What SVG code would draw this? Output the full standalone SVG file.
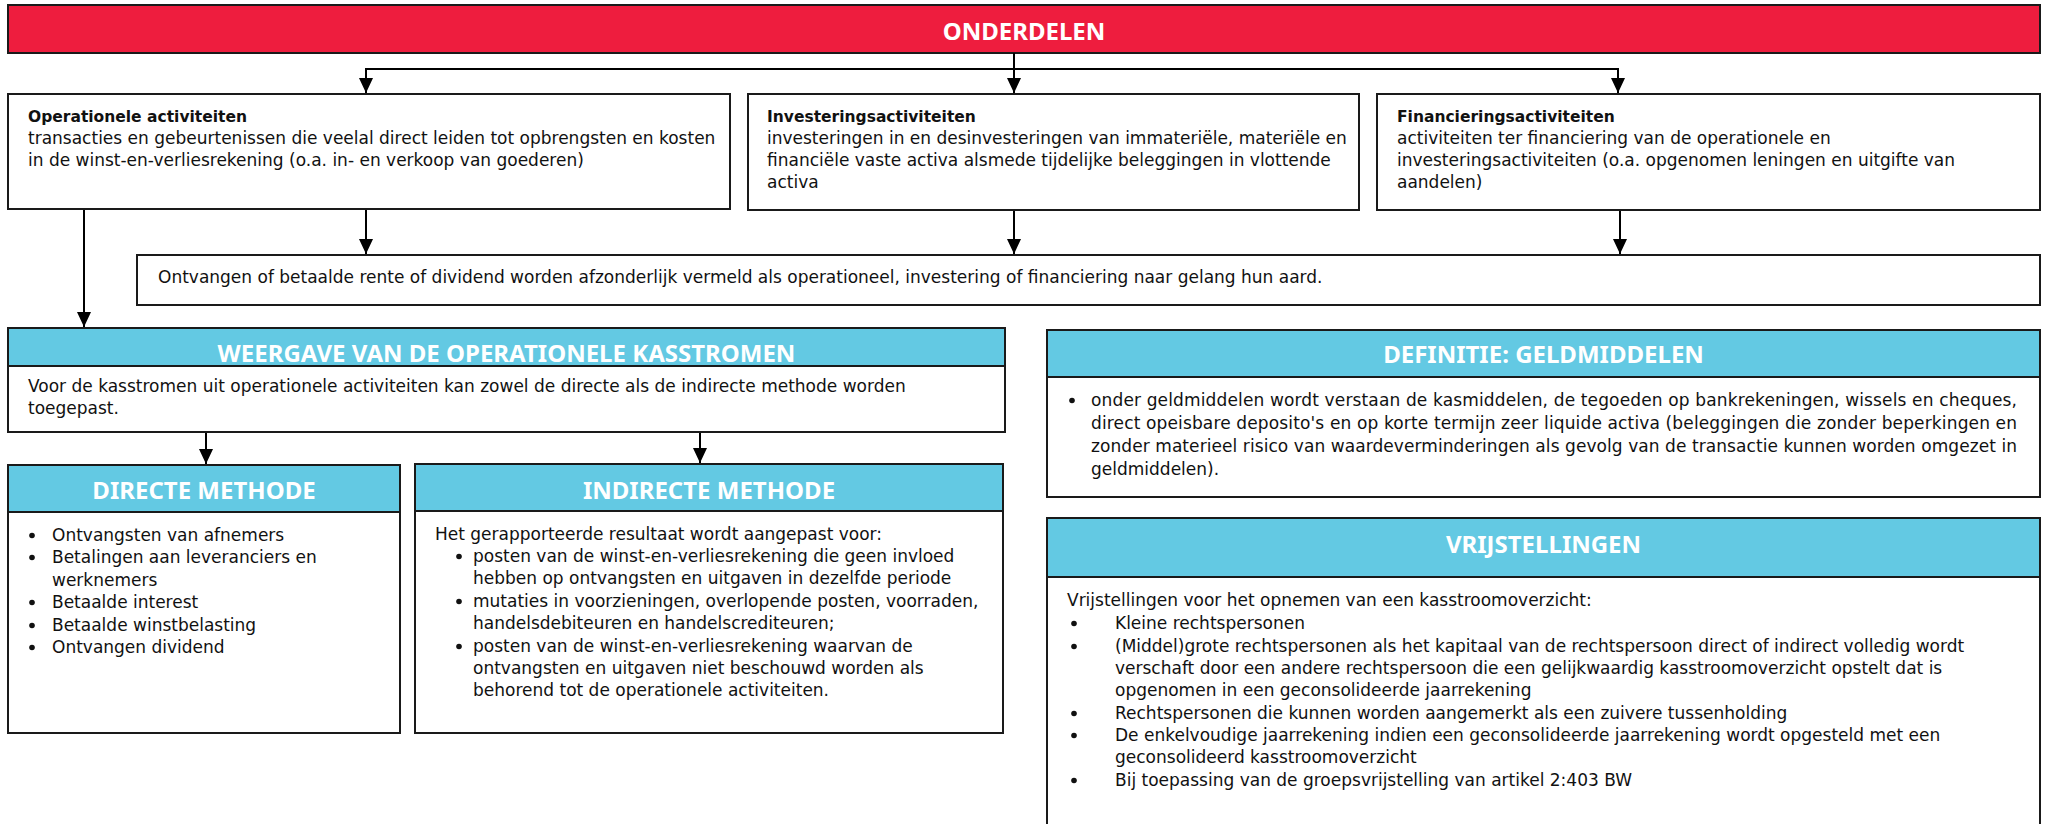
<svg xmlns="http://www.w3.org/2000/svg" width="2051" height="824" viewBox="0 0 2051 824">
<defs>
<marker id="ah" viewBox="0 0 15 14" refX="15" refY="7" markerWidth="15" markerHeight="14" markerUnits="userSpaceOnUse" orient="auto">
<path d="M0,0 L15,7 L0,14 z" fill="#000"/>
</marker>
<style>
.box{fill:#fff;stroke:#1a1a1a;stroke-width:2}
.red{fill:#EE1D3E;stroke:#1a1a1a;stroke-width:2}
.hdr{fill:#63C9E3;stroke:#1a1a1a;stroke-width:2}
.t{font-family:"DejaVu Sans","Noto Sans","Liberation Sans",sans-serif;font-size:17px;fill:#111}
.b{font-weight:bold;font-size:15.5px}
.h{font-family:"Noto Sans","Open Sans","Liberation Sans",sans-serif;font-size:24px;font-weight:bold;fill:#fff;text-anchor:middle}
.c{fill:none;stroke:#000;stroke-width:2;marker-end:url(#ah)}
.dot{fill:#111}
</style>
</defs>
<rect width="2051" height="824" fill="#fff"/>

<g id="onderdelen">
<rect class="red" x="8" y="5" width="2032" height="48"/>
<text class="h" x="1024" y="40">ONDERDELEN</text>
</g>

<g id="connectors">
<path class="c" d="M1014,53 V93"/>
<path class="c" d="M1014,69 H366 V93"/>
<path class="c" d="M1014,69 H1618 V93"/>
<path class="c" d="M366,209 V254"/>
<path class="c" d="M1014,210 V254"/>
<path class="c" d="M1620,210 V254"/>
<path class="c" d="M84,209 V327"/>
<path class="c" d="M206,432 V464"/>
<path class="c" d="M700,432 V463"/>
</g>

<g id="operationele">
<rect class="box" x="8" y="94" width="722" height="115"/>
<text class="t b" x="28" y="122">Operationele activiteiten</text>
<text class="t" x="28" y="144">transacties en gebeurtenissen die veelal direct leiden tot opbrengsten en kosten</text>
<text class="t" x="28" y="166">in de winst-en-verliesrekening (o.a. in- en verkoop van goederen)</text>
</g>

<g id="investering">
<rect class="box" x="748" y="94" width="611" height="116"/>
<text class="t b" x="767" y="122">Investeringsactiviteiten</text>
<text class="t" x="767" y="144">investeringen in en desinvesteringen van immateriële, materiële en</text>
<text class="t" x="767" y="166">financiële vaste activa alsmede tijdelijke beleggingen in vlottende</text>
<text class="t" x="767" y="188">activa</text>
</g>

<g id="financiering">
<rect class="box" x="1377" y="94" width="663" height="116"/>
<text class="t b" x="1397" y="122">Financieringsactiviteiten</text>
<text class="t" x="1397" y="144">activiteiten ter financiering van de operationele en</text>
<text class="t" x="1397" y="166">investeringsactiviteiten (o.a. opgenomen leningen en uitgifte van</text>
<text class="t" x="1397" y="188">aandelen)</text>
</g>

<g id="rente">
<rect class="box" x="137" y="255" width="1903" height="50"/>
<text class="t" x="158" y="283">Ontvangen of betaalde rente of dividend worden afzonderlijk vermeld als operationeel, investering of financiering naar gelang hun aard.</text>
</g>

<g id="weergave">
<rect class="box" x="8" y="366" width="997" height="66"/>
<rect class="hdr" x="8" y="328" width="997" height="38"/>
<text class="h" x="506.5" y="362">WEERGAVE VAN DE OPERATIONELE KASSTROMEN</text>
<text class="t" x="28" y="392">Voor de kasstromen uit operationele activiteiten kan zowel de directe als de indirecte methode worden</text>
<text class="t" x="28" y="414">toegepast.</text>
</g>

<g id="directe">
<rect class="box" x="8" y="512" width="392" height="221"/>
<rect class="hdr" x="8" y="465" width="392" height="47"/>
<text class="h" x="204" y="499">DIRECTE METHODE</text>
<circle class="dot" cx="32" cy="535.5" r="2.8"/><text class="t" x="52" y="541">Ontvangsten van afnemers</text>
<circle class="dot" cx="32" cy="557.5" r="2.8"/><text class="t" x="52" y="563">Betalingen aan leveranciers en</text>
<text class="t" x="52" y="586">werknemers</text>
<circle class="dot" cx="32" cy="602.5" r="2.8"/><text class="t" x="52" y="608">Betaalde interest</text>
<circle class="dot" cx="32" cy="625.5" r="2.8"/><text class="t" x="52" y="631">Betaalde winstbelasting</text>
<circle class="dot" cx="32" cy="647.5" r="2.8"/><text class="t" x="52" y="653">Ontvangen dividend</text>
</g>

<g id="indirecte">
<rect class="box" x="415" y="511" width="588" height="222"/>
<rect class="hdr" x="415" y="464" width="588" height="47"/>
<text class="h" x="709" y="499">INDIRECTE METHODE</text>
<text class="t" x="435" y="540">Het gerapporteerde resultaat wordt aangepast voor:</text>
<circle class="dot" cx="459" cy="556.5" r="2.8"/><text class="t" x="473" y="562">posten van de winst-en-verliesrekening die geen invloed</text>
<text class="t" x="473" y="584">hebben op ontvangsten en uitgaven in dezelfde periode</text>
<circle class="dot" cx="459" cy="601.5" r="2.8"/><text class="t" x="473" y="607">mutaties in voorzieningen, overlopende posten, voorraden,</text>
<text class="t" x="473" y="629">handelsdebiteuren en handelscrediteuren;</text>
<circle class="dot" cx="459" cy="646.5" r="2.8"/><text class="t" x="473" y="652">posten van de winst-en-verliesrekening waarvan de</text>
<text class="t" x="473" y="674">ontvangsten en uitgaven niet beschouwd worden als</text>
<text class="t" x="473" y="696">behorend tot de operationele activiteiten.</text>
</g>

<g id="definitie">
<rect class="box" x="1047" y="377" width="993" height="120"/>
<rect class="hdr" x="1047" y="330" width="993" height="47"/>
<text class="h" x="1543.5" y="363">DEFINITIE: GELDMIDDELEN</text>
<circle class="dot" cx="1072" cy="400.5" r="2.8"/>
<text class="t" x="1091" y="406" textLength="926" lengthAdjust="spacing">onder geldmiddelen wordt verstaan de kasmiddelen, de tegoeden op bankrekeningen, wissels en cheques,</text>
<text class="t" x="1091" y="429" textLength="926" lengthAdjust="spacing">direct opeisbare deposito's en op korte termijn zeer liquide activa (beleggingen die zonder beperkingen en</text>
<text class="t" x="1091" y="452" textLength="926" lengthAdjust="spacing">zonder materieel risico van waardeverminderingen als gevolg van de transactie kunnen worden omgezet in</text>
<text class="t" x="1091" y="475">geldmiddelen).</text>
</g>

<g id="vrijstellingen">
<rect class="box" x="1047" y="577" width="993" height="260"/>
<rect class="hdr" x="1047" y="518" width="993" height="59"/>
<text class="h" x="1543.5" y="553">VRIJSTELLINGEN</text>
<text class="t" x="1067" y="606">Vrijstellingen voor het opnemen van een kasstroomoverzicht:</text>
<circle class="dot" cx="1074" cy="623.5" r="2.8"/><text class="t" x="1115" y="629">Kleine rechtspersonen</text>
<circle class="dot" cx="1074" cy="646.5" r="2.8"/><text class="t" x="1115" y="652">(Middel)grote rechtspersonen als het kapitaal van de rechtspersoon direct of indirect volledig wordt</text>
<text class="t" x="1115" y="674">verschaft door een andere rechtspersoon die een gelijkwaardig kasstroomoverzicht opstelt dat is</text>
<text class="t" x="1115" y="696">opgenomen in een geconsolideerde jaarrekening</text>
<circle class="dot" cx="1074" cy="713.5" r="2.8"/><text class="t" x="1115" y="719">Rechtspersonen die kunnen worden aangemerkt als een zuivere tussenholding</text>
<circle class="dot" cx="1074" cy="735.5" r="2.8"/><text class="t" x="1115" y="741">De enkelvoudige jaarrekening indien een geconsolideerde jaarrekening wordt opgesteld met een</text>
<text class="t" x="1115" y="763">geconsolideerd kasstroomoverzicht</text>
<circle class="dot" cx="1074" cy="780.5" r="2.8"/><text class="t" x="1115" y="786">Bij toepassing van de groepsvrijstelling van artikel 2:403 BW</text>
</g>
</svg>
